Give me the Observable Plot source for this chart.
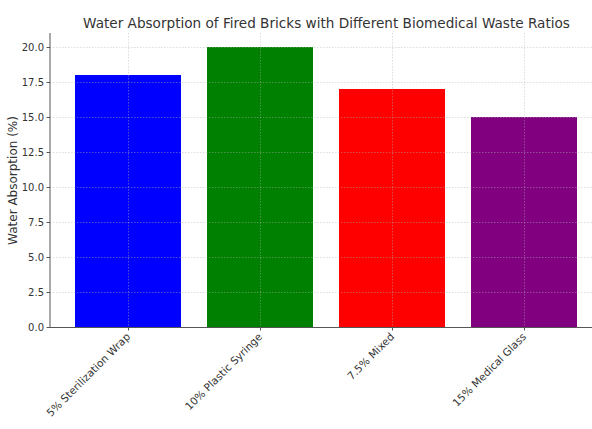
<!DOCTYPE html>
<html>
<head>
<meta charset="utf-8">
<script src="https://cdn.jsdelivr.net/npm/d3@7"></script>
<script src="https://cdn.jsdelivr.net/npm/@observablehq/plot@0.6"></script>
<style>
  html, body { margin: 0; padding: 0; background: white; overflow: hidden; }
</style>
</head>
<body>
<div id="chart"></div>
<script>
const categories = ["5% Sterilization Wrap", "10% Plastic Syringe", "7.5% Mixed", "15% Medical Glass"];
const values = [18, 20, 17, 15];
const colors = ["#0000ff", "#008000", "#ff0000", "#800080"];
const yTicks = [0, 2.5, 5, 7.5, 10, 12.5, 15, 17.5, 20];
const title = "Water Absorption of Fired Bricks with Different Biomedical Waste Ratios";
const yLabel = "Water Absorption (%)";

const data = categories.map((c, i) => ({category: c, value: values[i], color: colors[i]}));

const gridStyle = {stroke: "#b0b0b0", strokeOpacity: 0.55, strokeDasharray: "1.5,1.5", strokeWidth: 0.8};

const chart = Plot.plot({
  width: 592,
  height: 429,
  marginLeft: 50,
  marginRight: -10,
  marginTop: 33,
  marginBottom: 102,
  style: {fontFamily: "DejaVu Sans", fontSize: "10px", color: "#333", background: "white", overflow: "hidden"},
  x: {domain: categories, paddingInner: 0.2, paddingOuter: 0.19, label: null},
  y: {domain: [0, 21], label: null},
  color: {type: "identity"},
  marks: [
    Plot.barY(data, {x: "category", y: "value", fill: "color"}),
    Plot.gridY(yTicks, gridStyle),
    Plot.gridX(categories, gridStyle),
    Plot.ruleY([0], {stroke: "#555", strokeWidth: 1}),
    Plot.axisY(yTicks, {tickFormat: d3.format(".1f"), tickSize: 3.5, tickPadding: 3, stroke: "#555", fill: "#333", label: null}),
    Plot.axisX(categories, {tickRotate: -45, tickSize: 3.5, tickPadding: 4, fontSize: 10.5, stroke: "#555", fill: "#333", label: null}),
    Plot.text([yLabel], {frameAnchor: "left", textAnchor: "middle", rotate: -90, dx: -37, fontSize: 12, fill: "#333"}),
    Plot.text([title], {frameAnchor: "top", lineAnchor: "bottom", dy: -6, fontSize: 13.6, fill: "#333"})
  ]
});

// left spine placed from the library's own scales
const xr = chart.scale("x").range;
const yr = chart.scale("y").range;
d3.select(chart).append("line")
  .attr("x1", xr[0]).attr("x2", xr[0])
  .attr("y1", yr[0]).attr("y2", yr[1])
  .attr("stroke", "#555").attr("stroke-width", 1);

document.getElementById("chart").appendChild(chart);
</script>
</body>
</html>
